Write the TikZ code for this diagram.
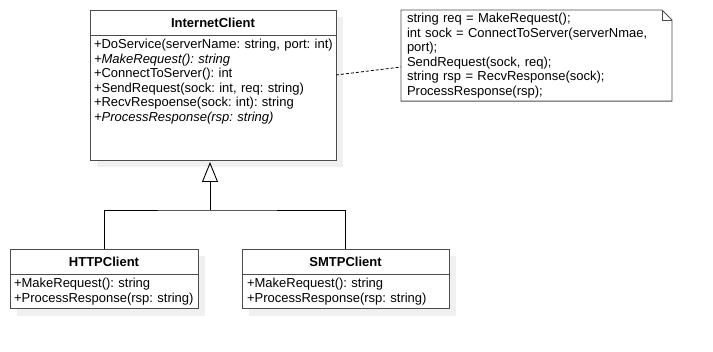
\documentclass[tikz,border=0pt]{standalone}
\usepackage{fontspec}
\setmainfont{Liberation Sans}
\usetikzlibrary{arrows.meta,shadows}
\frenchspacing

\begin{document}
\begin{tikzpicture}
  [x=1pt, y=-1pt,
    every node/.style={font=\fontsize{13}{14.6}\selectfont, outer sep=0pt},
    umlbox/.style={draw=black!70, line width=0.9pt, fill=white,
      drop shadow={shadow xshift=7pt, shadow yshift=-7pt, fill=black!6, opacity=1}},
    classname/.style={umlbox, anchor=north west, minimum height=25pt, inner sep=0pt,
      font=\fontsize{13}{14.6}\selectfont\bfseries},
    members/.style={umlbox, anchor=north west, align=left, inner xsep=5pt, inner ysep=4pt},
    note/.style={anchor=north west, align=left, inner xsep=6pt, inner ysep=3pt},
    link/.style={line width=0.9pt},
  ]
  \useasboundingbox (0,0) rectangle (713,352);

  % base class
  \node[classname, minimum width=246pt] (ic) at (90,10) {InternetClient};
  \node[members, text width=238pt, inner xsep=4pt] (icm) at (ic.south west)
    {\parbox[t][117pt][t]{260pt}{\raggedright
      +DoService(serverName: string, port: int)\\
      \textit{+MakeRequest(): string}\\
      +ConnectToServer(): int\\
      +SendRequest(sock: int, req: string)\\
      +RecvRespoense(sock: int): string\\
      \textit{+ProcessResponse(rsp: string)}}};

  % note with folded corner
  \node[note, text width=259pt] (memo) at (401,10)
    {string req = MakeRequest();\\
      int sock = ConnectToServer(serverNmae,\\
      port);\\
      SendRequest(sock, req);\\
      string rsp = RecvResponse(sock);\\
      ProcessResponse(rsp);};
  \draw[draw=black!70, line width=0.9pt] (memo.south west) -- (memo.north west)
    -- ([xshift=-10pt]memo.north east) -- ([yshift=-10pt]memo.north east)
    -- (memo.south east) -- cycle;
  \draw[draw=black!70, line width=0.9pt] ([xshift=-10pt]memo.north east)
    |- ([yshift=-10pt]memo.north east);
  \draw[dashed, dash pattern=on 3pt off 2pt, line width=0.8pt]
    ([yshift=-40pt]icm.north east) -- ([yshift=-57pt]memo.north west);

  % subclasses
  \node[classname, minimum width=188pt] (http) at (10,249) {HTTPClient};
  \node[members, text width=180pt, inner xsep=4pt] (httpm) at (http.south west)
    {+MakeRequest(): string\\+ProcessResponse(rsp: string)};

  \node[classname, minimum width=207pt] (smtp) at (242,249) {SMTPClient};
  \node[members, text width=197pt] (smtpm) at (smtp.south west)
    {+MakeRequest(): string\\+ProcessResponse(rsp: string)};

  % generalization
  \coordinate (fork) at (210,210);
  \draw[link] (http.north) |- (fork) -| (smtp.north);
  \draw[link, -{Triangle[open, width=16pt, length=20pt]}]
    (fork) -- ([yshift=-2pt]fork |- icm.south);
\end{tikzpicture}
\end{document}
